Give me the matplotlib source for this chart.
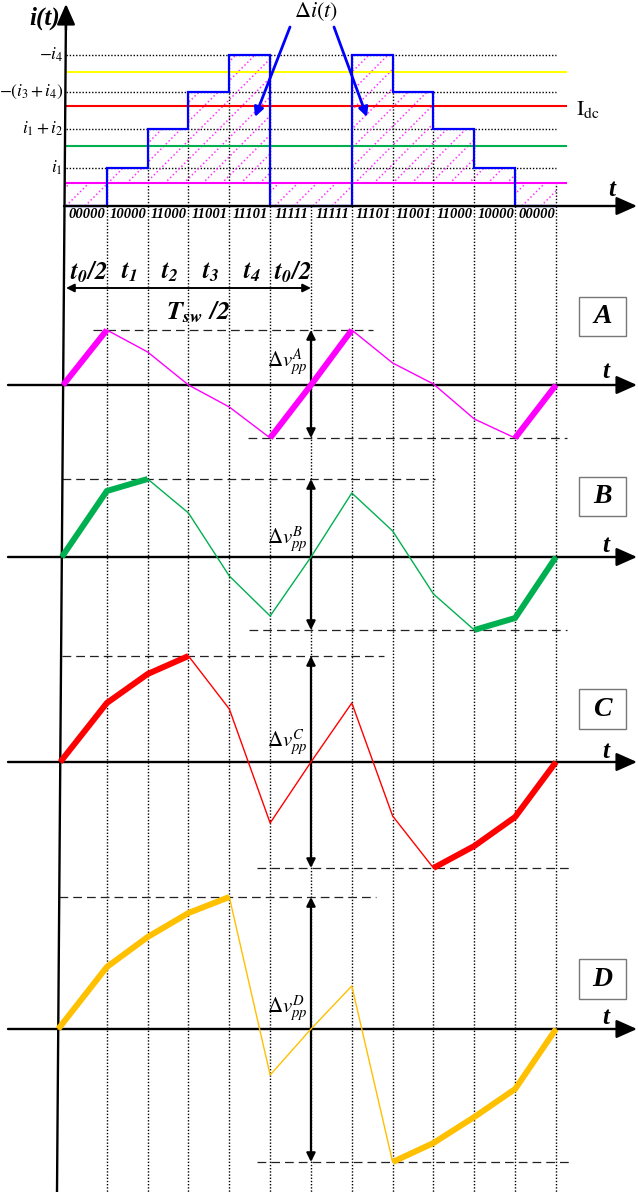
import numpy as np
import matplotlib
matplotlib.use("Agg")
import matplotlib.pyplot as plt
from matplotlib.path import Path
from matplotlib.patches import Rectangle, PathPatch
from matplotlib.collections import LineCollection

plt.rcParams['mathtext.fontset'] = 'stix'
plt.rcParams['font.family'] = ['Liberation Serif', 'DejaVu Serif']

# ---------------- data ----------------
segment_codes = ['00000', '10000', '11000', '11001', '11101', '11111',
                 '11111', '11101', '11001', '11000', '10000', '00000']
duration_labels = [r'$\mathbfit{t_0/2}$', r'$\mathbfit{t_1}$', r'$\mathbfit{t_2}$',
                   r'$\mathbfit{t_3}$', r'$\mathbfit{t_4}$', r'$\mathbfit{t_0/2}$']
level_values = [38, 77, 114, 151]
level_labels = [r'$i_1$', r'$i_1+i_2$', r'$-(i_3\,{+}\,i_4)$', r'$-i_4$']
step_current = [0, 38, 77, 114, 151, 0, 0, 151, 114, 77, 38, 0]
dc_values = [23, 60, 100, 134]
dc_colors = ['#FF00FF', '#00B050', '#FF0000', '#FFFF00']

panel_names = ['A', 'B', 'C', 'D']
wave_A = [0, 55, 33, 0, -22, -53, 0, 55, 22, 1, -34, -53, 0]
wave_B = [0, 66, 78, 44, -19, -59, 0, 64, 26, -37, -73, -61, 0]
wave_C = [0, 59, 88, 106, 53, -61, 0, 59, -54, -106, -84, -55, 0]
wave_D = [0, 62, 92, 116, 132, -46, 0, 43, -133, -114, -88, -60, 0]
waves = [wave_A, wave_B, wave_C, wave_D]
wave_colors = ['#FF00FF', '#00B050', '#FF0000', '#FFC000']
thick_ranges = [[(0, 1), (5, 7), (11, 12)], [(0, 2), (10, 12)],
                [(0, 3), (9, 12)], [(0, 4), (8, 12)]]

# ---------------- layout ----------------
fig = plt.figure(figsize=(6.38, 11.94), dpi=100)
ax = fig.add_axes([0, 0, 1, 1])
ax.set_xlim(0, 638)
ax.set_ylim(1194, 0)
ax.axis('off')

X0, DX = 66.0, 40.83
def tx(t):
    return X0 + DX * np.asarray(t, dtype=float)

TOP = 206  # top panel time axis
baselines = [385, 557, 762, 1029]
top_dash_x = [(93, 373), (62, 435), (62, 384), (59, 376)]
bot_dash_x = [(248, 567), (249, 567), (257, 573), (257, 573)]
label_y = [362, 540, 743, 1009]
box_y = [(297, 336), (477, 516), (689, 729), (959, 999)]
t_label_y = [371, 545, 751, 1018]

def axis_x(y):
    return 66 + (57 - 66) * (y - 10) / (1192 - 10)

AX_ARROW = dict(arrowstyle='-|>,head_length=0.9,head_width=0.4', color='black',
                lw=1.7, mutation_scale=14, shrinkA=0, shrinkB=0)

# main vertical axis
ax.plot([axis_x(1192), axis_x(20)], [1192, 20], color='black', lw=1.7,
        solid_capstyle='butt', zorder=6)
ax.annotate('', xy=(66, 4), xytext=(66, 30), arrowprops=AX_ARROW, zorder=6)
ax.text(45, 18, 'i(t)', fontsize=18, fontweight='bold', style='italic',
        ha='center', va='center')

# ---------- top panel ----------
edges = tx(np.arange(13))
cur = np.array(step_current, dtype=float)

# level dotted lines + tick labels
for v, lab in zip(level_values, level_labels):
    ax.plot([66, tx(12)], [TOP - v, TOP - v], color='black', lw=1.0,
            ls=(0, (1, 1.3)), zorder=2)
    ax.text(63, TOP - v, lab, fontsize=12.5, ha='right', va='center')

# dc coloured lines
for v, c in zip(dc_values, dc_colors):
    ax.plot([66, 566], [TOP - v, TOP - v], color=c, lw=1.5, zorder=3)
ax.text(576, TOP - dc_values[2] + 4, r'$\mathrm{I}_{\mathrm{dc}}$', fontsize=16,
        ha='left', va='center')

# hatched area between step current and dc level
mag = dc_values[0]
xs, ys = [], []
for k in range(12):
    xs += [edges[k], edges[k + 1]]
    ys += [TOP - cur[k], TOP - cur[k]]
verts = list(zip(xs, ys)) + [(edges[12], TOP - mag), (edges[0], TOP - mag)]
clip = PathPatch(Path(verts + [verts[0]], closed=True), fc='none', ec='none',
                 transform=ax.transData)
ax.add_patch(clip)
segs = []
for x0 in np.arange(-200, 700, 19):
    segs.append([(x0, TOP), (x0 + 200, TOP - 200)])
hatch = LineCollection(segs, colors='#FF33FF', linewidths=1.1,
                       linestyles=[(0, (1, 1.6))], zorder=2)
ax.add_collection(hatch)
hatch.set_clip_path(clip)

# vertical dotted lines in top panel
for k in range(1, 13):
    h = max(cur[k - 1], cur[k] if k < 12 else 0)
    if k == 12:
        h = mag
    if h > 0:
        ax.plot([edges[k], edges[k]], [TOP, TOP - h], color='black', lw=1.0,
                ls=(0, (1, 1.3)), zorder=2)

# blue step current
ax.stairs(TOP - cur, edges, baseline=None, color='#0000FF', lw=1.6, zorder=5)

# top time axis
ax.annotate('', xy=(637, TOP), xytext=(64, TOP), arrowprops=AX_ARROW, zorder=6)
ax.text(612, 190, 't', fontsize=18, fontweight='bold', style='italic',
        ha='center', va='center')

# switching codes
for k, code in enumerate(segment_codes):
    ax.text((edges[k] + edges[k + 1]) / 2 + 1, 214, code, fontsize=10.5,
            fontweight='bold', style='italic', ha='center', va='center')

# Delta i(t) with arrows
ax.text(316, 12, r'$\Delta i(t)$', fontsize=16, ha='center', va='center')
for (xa, ya), (xb, yb) in [((290, 27), (255, 117)), ((334, 27), (367, 117))]:
    ax.annotate('', xy=(xb, yb), xytext=(xa, ya),
                arrowprops=dict(arrowstyle='-|>', color='#0000FF', lw=2.0,
                                mutation_scale=14, shrinkA=0, shrinkB=0),
                zorder=7)

# vertical dotted grid lines through lower panels
for k in range(1, 13):
    ax.plot([edges[k], edges[k]], [TOP, 1192], color='black', lw=1.0,
            ls=(0, (1, 1.3)), zorder=1)

# durations row
dur_x = [(edges[k] + edges[k + 1]) / 2 for k in range(6)]
for x, lab in zip(dur_x, duration_labels):
    ax.text(x + 2, 272, lab, fontsize=18, ha='center', va='center')
ax.annotate('', xy=(edges[0], 288), xytext=(edges[6], 288),
            arrowprops=dict(arrowstyle='<|-|>', color='black', lw=1.4,
                            mutation_scale=12, shrinkA=0, shrinkB=0))
ax.text(198, 312, r'$\mathbfit{T_{sw}\ /2}$', fontsize=19, ha='center',
        va='center')

# ---------- waveform panels ----------
t = np.arange(13)
for i in range(4):
    base = baselines[i]
    v = np.array(waves[i], dtype=float)
    x = tx(t)
    x[0] = axis_x(base)
    y = base - v
    col = wave_colors[i]
    # axis
    ax.annotate('', xy=(637, base), xytext=(8, base), arrowprops=AX_ARROW,
                zorder=6)
    ax.text(606, t_label_y[i], 't', fontsize=18, fontweight='bold',
            style='italic', ha='center', va='center')
    # waveform
    ax.plot(x, y, color=col, lw=1.0, zorder=7)
    for a, b in thick_ranges[i]:
        ax.plot(x[a:b + 1], y[a:b + 1], color=col, lw=4.3, zorder=7,
                solid_capstyle='butt', solid_joinstyle='miter')
    # dashed extremes
    ytop, ybot = base - v.max(), base - v.min()
    ax.plot(top_dash_x[i], [ytop, ytop], color='#222222', lw=0.9,
            ls=(0, (7, 4)), zorder=4)
    ax.plot(bot_dash_x[i], [ybot, ybot], color='#222222', lw=0.9,
            ls=(0, (7, 4)), zorder=4)
    ax.annotate('', xy=(edges[6], ytop), xytext=(edges[6], ybot),
                arrowprops=dict(arrowstyle='<|-|>', color='black', lw=1.6,
                                mutation_scale=13, shrinkA=0, shrinkB=0),
                zorder=6)
    ax.text(308, label_y[i], r'$\Delta v_{pp}^{%s}$' % panel_names[i],
            fontsize=15, ha='right', va='center', zorder=8)
    # box label
    y0, y1 = box_y[i]
    ax.add_patch(Rectangle((579, y0), 47, y1 - y0, fc='white', ec='#777777',
                           lw=1.0, zorder=5))
    ax.text(602.5, (y0 + y1) / 2, panel_names[i], fontsize=20,
            fontweight='bold', style='italic', ha='center', va='center',
            zorder=6)

fig.savefig('out.png', dpi=100)
